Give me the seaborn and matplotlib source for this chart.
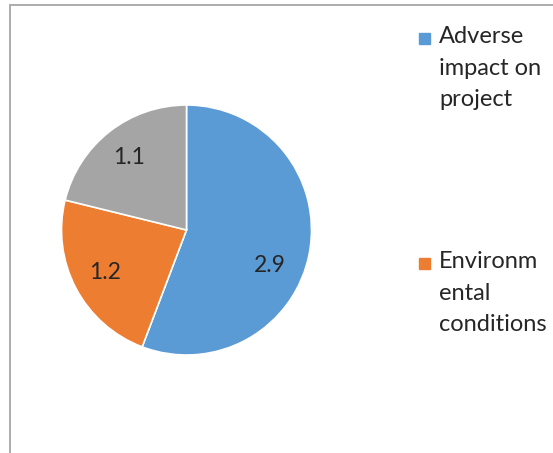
import matplotlib
matplotlib.use("Agg")
import matplotlib.pyplot as plt
from matplotlib.patches import Rectangle
import seaborn as sns

# data
categories = ["Adverse\nimpact on\nproject", "Environm\nental\nconditions", "Other"]
values = [2.9, 1.2, 1.1]
value_labels = ["2.9", "1.2", "1.1"]
colors = ["#5B9BD5", "#ED7D31", "#A5A5A5"]

sns.set_theme(style="white")
plt.rcParams['font.family'] = ['Lato', 'DejaVu Sans']

W, H = 553, 453
fig = plt.figure(figsize=(W / 100, H / 100), dpi=100)

# pie axes: centre (186.5, 230) px, radius 125 px
cx, cy, r = 186.5, 230, 125
ax = fig.add_axes([(cx - r) / W, (H - cy - r) / H, 2 * r / W, 2 * r / H])
palette = sns.color_palette(colors)
wedges, texts = ax.pie(values, labels=value_labels, colors=palette,
                       startangle=90, counterclock=False,
                       labeldistance=0.74,
                       wedgeprops=dict(edgecolor="white", linewidth=1.2),
                       textprops=dict(fontsize=16.5, color="#262626"))
for t in texts:
    t.set_horizontalalignment("center")
    t.set_verticalalignment("center")
# Excel "best fit" puts the big slice's label a bit lower
x0, y0 = texts[0].get_position()
texts[0].set_position((x0 - 0.06, y0 - 0.15))
ax.set_aspect("equal")
ax.set_xlim(-1.0, 1.0)
ax.set_ylim(-1.0, 1.0)
ax.axis("off")

# legend on the right: square next to the first line of each label,
# entries 225 px apart; only the entries that fit in the picture are shown
for i, (cat, col) in enumerate(zip(categories, palette)):
    top = 26 + 225 * i
    if top + 30 > H:
        break
    fig.patches.append(Rectangle((419 / W, 1 - (top + 18) / H), 11 / W, 11 / H,
                                 color=col, transform=fig.transFigure, figure=fig))
    fig.text(439 / W, 1 - top / H, cat, fontsize=17, color="#262626",
             va="top", ha="left", linespacing=1.62)

# chart frame, cut off at the right and bottom
frame = Rectangle((10 / W, -0.2), 1.0, 1 - 5 / H + 0.2, fill=False,
                  edgecolor="#A6A6A6", linewidth=1.3,
                  transform=fig.transFigure, figure=fig)
fig.patches.append(frame)

fig.savefig("out.png", dpi=100, facecolor="white")
